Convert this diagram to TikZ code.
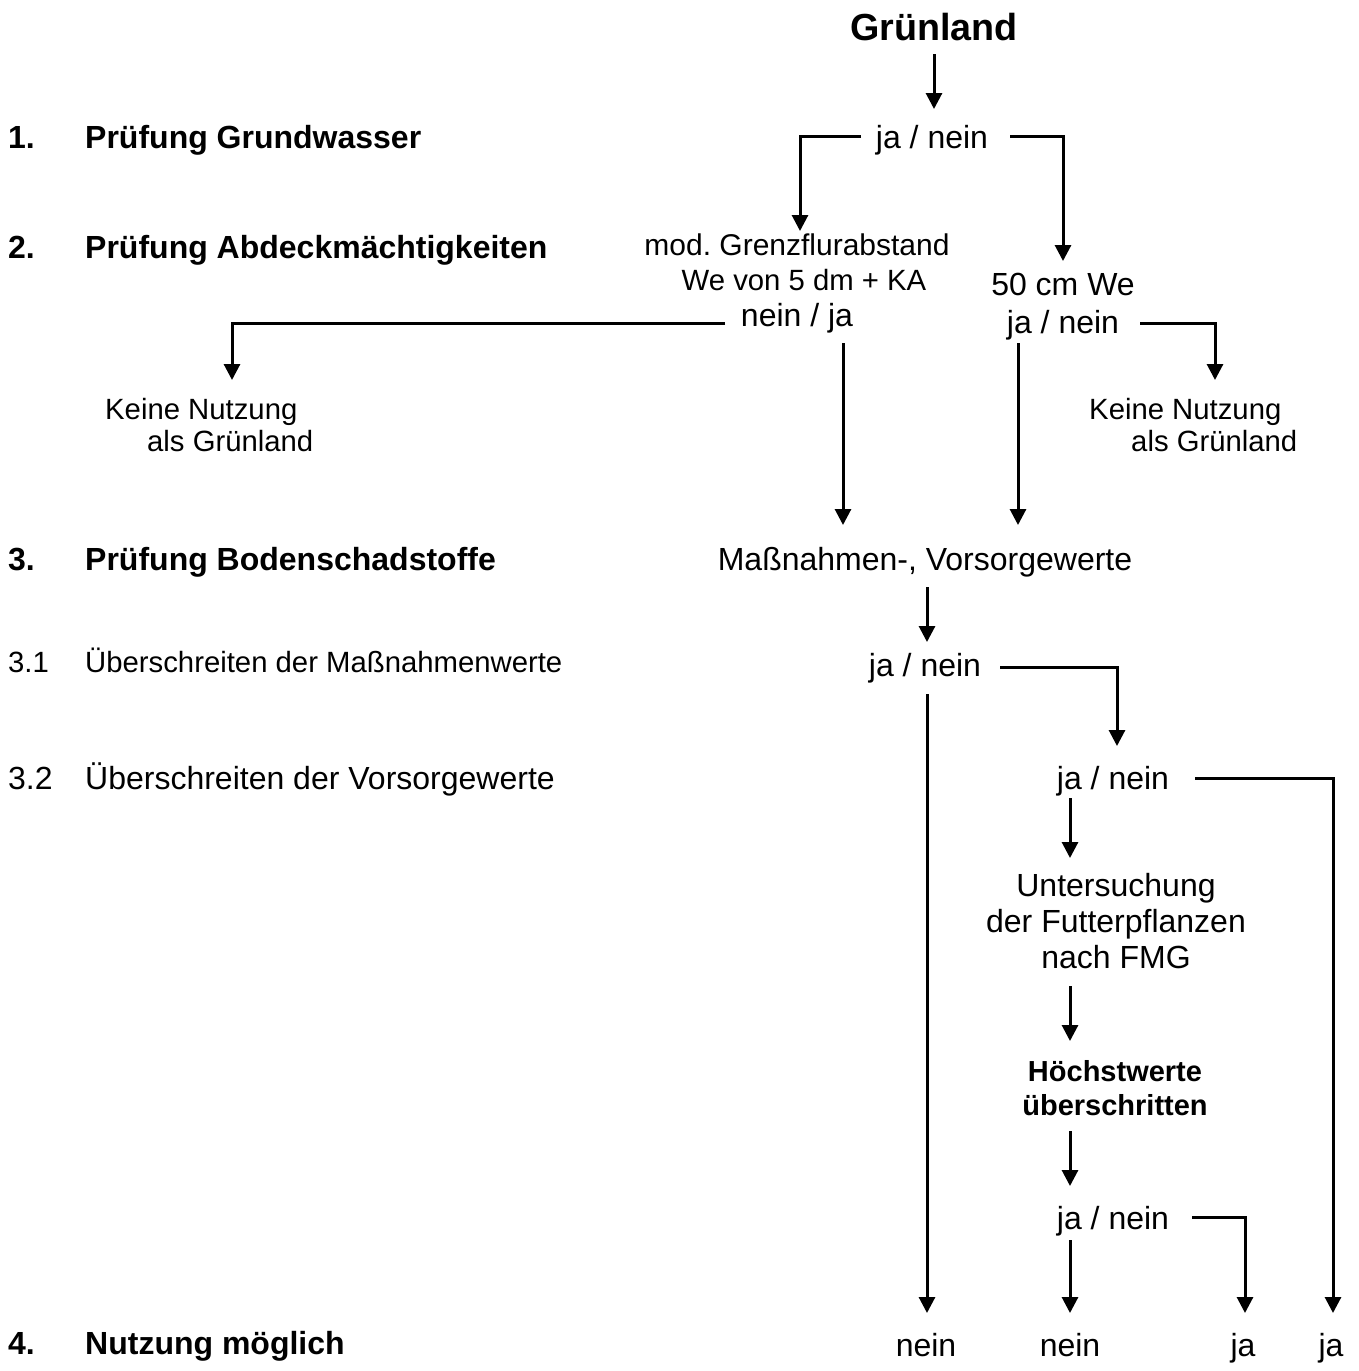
\documentclass[tikz,border=0pt]{standalone}
\usepackage{fontspec}
\setmainfont{Liberation Sans}
\usetikzlibrary{arrows.meta}
\frenchspacing
\newcommand{\fmain}{\fontsize{32}{36}\selectfont}
\newcommand{\fsmall}{\fontsize{29.3}{34}\selectfont}
\newcommand{\fmod}{\fontsize{30}{34}\selectfont}
\newcommand{\fbold}{\fontsize{32}{36}\selectfont\bfseries}
\newcommand{\fhb}{\fontsize{29}{32}\selectfont\bfseries}
\newcommand{\ftitle}{\fontsize{37.7}{42}\selectfont\bfseries}
\tikzset{
  txt/.style={inner sep=0pt, anchor=base, font=\fmain},
  sml/.style={inner sep=0pt, anchor=base, font=\fsmall},
  bld/.style={inner sep=0pt, anchor=base west, font=\fbold},
  arr/.style={line width=3pt, -{Triangle[length=16pt,width=16pt]}}
}
\begin{document}
\begin{tikzpicture}[x=1pt,y=-1pt]
\useasboundingbox (0,0) rectangle (1359,1371);
% left column
\node[bld] (n1) at (8,148) {1.};
\node[bld] (t1) at (85,148) {Prüfung Grundwasser};
\node[bld] (n2) at (8,258) {2.};
\node[bld] (t2) at (85,258) {Prüfung Abdeckmächtigkeiten};
\node[bld] (n3) at (8,570) {3.};
\node[bld] (t3) at (85,570) {Prüfung Bodenschadstoffe};
\node[sml,anchor=base west] (n31) at (8,672) {3.1};
\node[sml,anchor=base west] (t31) at (85,672) {Überschreiten der Maßnahmenwerte};
\node[txt,anchor=base west] (n32) at (8,789) {3.2};
\node[txt,anchor=base west] (t32) at (85,789) {Überschreiten der Vorsorgewerte};
\node[bld] (n4) at (8,1354) {4.};
\node[bld] (t4) at (85,1354) {Nutzung möglich};
% flow
\node[inner sep=0pt,anchor=base,font=\ftitle] (gl) at (934,40) {Grünland};
\node[txt] (jn1) at (932,148) {ja / nein};
\node[sml,font=\fmod] (mod) at (797,255) {mod. Grenzflurabstand};
\node[sml] (we) at (804,290) {We von 5 dm + KA};
\node[txt] (nj) at (797,326) {nein / ja};
\node[txt] (cm) at (1063,295) {50 cm We};
\node[txt] (jn2) at (1063,333) {ja / nein};
\node[sml,anchor=base west] (kn1) at (105,419) {Keine Nutzung};
\node[sml,anchor=base west] (ag1) at (147,451) {als Grünland};
\node[sml,anchor=base west] (kn2) at (1089,419) {Keine Nutzung};
\node[sml,anchor=base west] (ag2) at (1131,451) {als Grünland};
\node[txt] (mv) at (925,570) {Maßnahmen-, Vorsorgewerte};
\node[txt] (jn3) at (925,676) {ja / nein};
\node[txt] (jn4) at (1113,789) {ja / nein};
\node[txt] (u1) at (1116,896) {Untersuchung};
\node[txt] (u2) at (1116,932) {der Futterpflanzen};
\node[txt] (u3) at (1116,968) {nach FMG};
\node[inner sep=0pt,anchor=base,font=\fhb] (h1) at (1115,1081) {Höchstwerte};
\node[inner sep=0pt,anchor=base,font=\fhb] (h2) at (1115,1115) {überschritten};
\node[txt] (jn5) at (1113,1229) {ja / nein};
\node[txt] (b1) at (926,1356) {nein};
\node[txt] (b2) at (1070,1356) {nein};
\node[txt] (b3) at (1243,1356) {ja};
\node[txt] (b4) at (1331,1356) {ja};
% connector points
\coordinate (p1) at (934,54);   \coordinate (e1) at (934,109);
\coordinate (p2) at (861,136);  \coordinate (e2) at (800,231);
\coordinate (p3) at (1010,136); \coordinate (e3) at (1063,261);
\coordinate (p4) at (725,323);  \coordinate (e4) at (232,380);
\coordinate (p5) at (843,343);  \coordinate (e5) at (843,525);
\coordinate (p6) at (1018,343); \coordinate (e6) at (1018,525);
\coordinate (p7) at (1140,323); \coordinate (e7) at (1215,380);
\coordinate (p8) at (927,587);  \coordinate (e8) at (927,642);
\coordinate (p9) at (927,694);  \coordinate (e9) at (927,1313);
\coordinate (p10) at (1000,667);\coordinate (e10) at (1117,746);
\coordinate (p11) at (1195,778);\coordinate (e11) at (1333,1313);
\coordinate (p12) at (1070,798);\coordinate (e12) at (1070,858);
\coordinate (p13) at (1070,986);\coordinate (e13) at (1070,1041);
\coordinate (p14) at (1070,1131);\coordinate (e14) at (1070,1186);
\coordinate (p15) at (1070,1240);\coordinate (e15) at (1070,1313);
\coordinate (p16) at (1192,1217);\coordinate (e16) at (1245,1313);
% connectors
\draw[arr] (p1) -- (e1);
\draw[arr] (p2) -| (e2);
\draw[arr] (p3) -| (e3);
\draw[arr] (p4) -| (e4);
\draw[arr] (p5) -- (e5);
\draw[arr] (p6) -- (e6);
\draw[arr] (p7) -| (e7);
\draw[arr] (p8) -- (e8);
\draw[arr] (p9) -- (e9);
\draw[arr] (p10) -| (e10);
\draw[arr] (p11) -| (e11);
\draw[arr] (p12) -- (e12);
\draw[arr] (p13) -- (e13);
\draw[arr] (p14) -- (e14);
\draw[arr] (p15) -- (e15);
\draw[arr] (p16) -| (e16);
\end{tikzpicture}
\end{document}
